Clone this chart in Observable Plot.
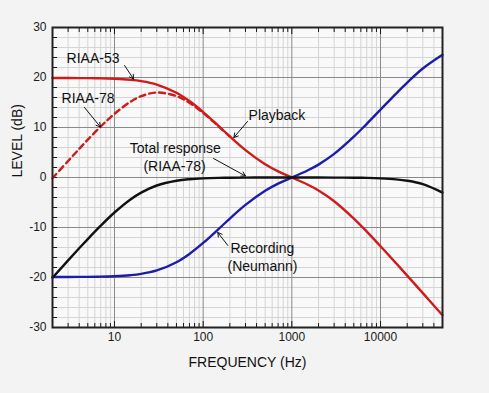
<!DOCTYPE html>
<html><head><meta charset="utf-8">
<script src="https://cdn.jsdelivr.net/npm/d3@7"></script>
<script src="https://cdn.jsdelivr.net/npm/@observablehq/plot@0.6"></script>
<style>body{margin:0;background:#f3f3f3;} #chart svg{display:block}</style>
</head><body><div id="chart"></div>
<script>
// Frequencies (Hz) at which the curves were read
const freq = [2,3,4,5,7,10,15,20,30,50,70,100,150,200,300,500,700,1000,1500,2000,3000,5000,7000,10000,15000,20000,30000,50000];
// Playback RIAA-53 (dB)
const riaa53 = [19.9,19.89,19.88,19.87,19.83,19.74,19.54,19.28,18.59,16.94,15.28,13.09,10.27,8.21,5.48,2.65,1.23,0,-1.4,-2.59,-4.74,-8.21,-10.82,-13.74,-17.16,-19.62,-23.12,-27.54];
// Playback RIAA-78 (dB), low-frequency part (dashed)
const freq78 = [2,3,4,5,7,10,15,20,30,50,70,100,150,200];
const riaa78 = [-0.15,3.31,5.72,7.56,10.2,12.74,15.1,16.26,16.99,16.29,14.94,12.92,10.19,8.17];
// Recording (Neumann) (dB)
const recording = [-19.9,-19.89,-19.88,-19.87,-19.83,-19.74,-19.54,-19.28,-18.59,-16.94,-15.28,-13.09,-10.27,-8.21,-5.48,-2.65,-1.23,0,1.4,2.58,4.72,8.17,10.74,13.57,16.79,18.98,21.79,24.53];
// Total response (RIAA-78) (dB)
const total = [-20.05,-16.58,-14.16,-12.31,-9.63,-7,-4.44,-3.02,-1.6,-0.65,-0.34,-0.17,-0.08,-0.05,-0.02,-0.01,-0.01,0,-0.01,-0.01,-0.02,-0.04,-0.08,-0.17,-0.37,-0.64,-1.33,-3.01];

// Axis ticks
const xMajor = [10,100,1000,10000];
const xMinor = [3,4,5,6,7,8,9,20,30,40,50,60,70,80,90,200,300,400,500,600,700,800,900,2000,3000,4000,5000,6000,7000,8000,9000,20000,30000,40000];
const xMinorTicks = [2].concat(xMinor);
const yLabels = [-30,-20,-10,0,10,20,30];
const yMajor = [-20,-10,0,10,20];
const yMinor = [-28,-26,-24,-22,-18,-16,-14,-12,-8,-6,-4,-2,2,4,6,8,12,14,16,18,22,24,26,28];

// Annotations
const labelText = ["RIAA-53","RIAA-78","Playback","Recording","(Neumann)"];
const labelF =    [2.88, 2.53, 325, 203, 188];
const labelV =    [23.8, 15.8, 12.4, -14.2, -17.8];
const centerText = ["Total response","(RIAA-78)"];
const centerF = [48.5, 47.5];
const centerV = [5.8, 2.2];
const arrowF1 = [13.0, 4.59, 316, 131, 190];
const arrowV1 = [22.4, 14.0, 11.2, 3.8, -13.6];
const arrowF2 = [16.4, 6.95, 222, 300, 146];
const arrowV2 = [19.7, 10.1, 8.0, 0.3, -11.0];

const pts = (xs, ys) => xs.map((f, i) => ({f, v: ys[i]}));
const idx = n => d3.range(n);

const chart = Plot.plot({
  width: 489, height: 393,
  marginLeft: 52, marginRight: 47, marginTop: 27, marginBottom: 66,
  style: {background: "transparent", fontFamily: "'Liberation Sans', Arial, sans-serif", fontSize: "12px", color: "#1a1a1a"},
  x: {type: "log", domain: [2, 50000]},
  y: {domain: [-30, 30]},
  marks: [
    Plot.frame({fill: "#f9f9f9", stroke: null}),
    Plot.ruleX(xMinor, {stroke: "#d4d4d4", strokeWidth: 1}),
    Plot.ruleY(yMinor, {stroke: "#d4d4d4", strokeWidth: 1}),
    Plot.ruleX(xMajor, {stroke: "#8a8a8a", strokeWidth: 1}),
    Plot.ruleY(yMajor, {stroke: "#8a8a8a", strokeWidth: 1}),
    // inward ticks
    Plot.axisX(xMinorTicks, {anchor: "bottom", tickSize: -4, tickFormat: () => "", label: null}),
    Plot.axisX(xMajor, {anchor: "bottom", tickSize: -6, tickFormat: () => "", label: null}),
    Plot.axisX(xMinorTicks, {anchor: "top", tickSize: -4, tickFormat: () => "", label: null}),
    Plot.axisX(xMajor, {anchor: "top", tickSize: -6, tickFormat: () => "", label: null}),
    Plot.axisY(yMinor.concat(yMajor), {anchor: "left", tickSize: -5, tickFormat: () => "", label: null}),
    // tick labels
    Plot.axisX(xMajor, {anchor: "bottom", tickSize: 0, tickPadding: 5, tickFormat: d => String(d), label: null, fontSize: 12}),
    Plot.axisY(yLabels, {anchor: "left", tickSize: 0, tickPadding: 6, tickFormat: d => String(d), label: null, fontSize: 12}),
    // curves
    Plot.line(pts(freq78, riaa78), {x: "f", y: "v", stroke: "#d11a1a", strokeWidth: 2.4, strokeDasharray: "6,4", curve: "catmull-rom"}),
    Plot.line(pts(freq, riaa53), {x: "f", y: "v", stroke: "#d11a1a", strokeWidth: 2.4, curve: "catmull-rom"}),
    Plot.line(pts(freq, recording), {x: "f", y: "v", stroke: "#1c1cad", strokeWidth: 2.4, curve: "catmull-rom"}),
    Plot.line(pts(freq, total), {x: "f", y: "v", stroke: "#111", strokeWidth: 2.4, curve: "catmull-rom"}),
    // annotations
    Plot.arrow(idx(arrowF1.length), {x1: i => arrowF1[i], y1: i => arrowV1[i], x2: i => arrowF2[i], y2: i => arrowV2[i], stroke: "#111", strokeWidth: 1, headLength: 7}),
    Plot.text(idx(labelText.length), {x: i => labelF[i], y: i => labelV[i], text: i => labelText[i], textAnchor: "start", lineAnchor: "middle", fontSize: 14, fill: "#111"}),
    Plot.text(idx(centerText.length), {x: i => centerF[i], y: i => centerV[i], text: i => centerText[i], textAnchor: "middle", lineAnchor: "middle", fontSize: 14, fill: "#111"}),
    // axis titles
    Plot.text(["LEVEL (dB)"], {frameAnchor: "left", dx: -35, rotate: -90, lineAnchor: "middle", fontSize: 14, fill: "#111"}),
    Plot.text(["FREQUENCY (Hz)"], {frameAnchor: "bottom", dy: 35, lineAnchor: "middle", fontSize: 14, fill: "#111"}),
    Plot.frame({stroke: "#222", strokeWidth: 2})
  ]
});
document.getElementById("chart").append(chart);
</script>
</body></html>
